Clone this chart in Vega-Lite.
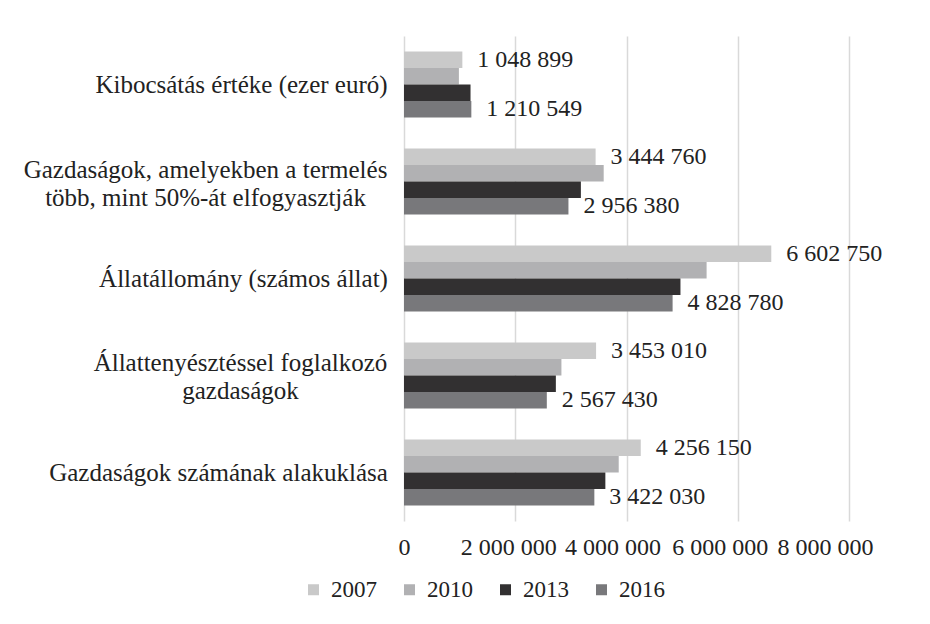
{
  "$schema": "https://vega.github.io/schema/vega-lite/v6.json",
  "width": 445,
  "height": 485,
  "autosize": {"type": "none"},
  "padding": {"left": 404, "top": 36, "right": 81, "bottom": 103},
  "background": "white",
  "config": {
    "locale": {"number": {"decimal": ",", "thousands": " ", "grouping": [3], "currency": ["", ""]}},
    "view": {"stroke": null},
    "font": "Liberation Serif"
  },
  "data": {
    "values": [
      {"kat": "Kibocsátás értéke (ezer euró)", "ev": "2007", "ertek": 1048899, "cimke": "igen"},
      {"kat": "Kibocsátás értéke (ezer euró)", "ev": "2010", "ertek": 987000, "cimke": "nem"},
      {"kat": "Kibocsátás értéke (ezer euró)", "ev": "2013", "ertek": 1196000, "cimke": "nem"},
      {"kat": "Kibocsátás értéke (ezer euró)", "ev": "2016", "ertek": 1210549, "cimke": "igen"},
      {"kat": "Gazdaságok, amelyekben a termelés több, mint 50%-át elfogyasztják", "ev": "2007", "ertek": 3444760, "cimke": "igen"},
      {"kat": "Gazdaságok, amelyekben a termelés több, mint 50%-át elfogyasztják", "ev": "2010", "ertek": 3590000, "cimke": "nem"},
      {"kat": "Gazdaságok, amelyekben a termelés több, mint 50%-át elfogyasztják", "ev": "2013", "ertek": 3180000, "cimke": "nem"},
      {"kat": "Gazdaságok, amelyekben a termelés több, mint 50%-át elfogyasztják", "ev": "2016", "ertek": 2956380, "cimke": "igen"},
      {"kat": "Állatállomány (számos állat)", "ev": "2007", "ertek": 6602750, "cimke": "igen"},
      {"kat": "Állatállomány (számos állat)", "ev": "2010", "ertek": 5440000, "cimke": "nem"},
      {"kat": "Állatállomány (számos állat)", "ev": "2013", "ertek": 4970000, "cimke": "nem"},
      {"kat": "Állatállomány (számos állat)", "ev": "2016", "ertek": 4828780, "cimke": "igen"},
      {"kat": "Állattenyésztéssel foglalkozó gazdaságok", "ev": "2007", "ertek": 3453010, "cimke": "igen"},
      {"kat": "Állattenyésztéssel foglalkozó gazdaságok", "ev": "2010", "ertek": 2830000, "cimke": "nem"},
      {"kat": "Állattenyésztéssel foglalkozó gazdaságok", "ev": "2013", "ertek": 2730000, "cimke": "nem"},
      {"kat": "Állattenyésztéssel foglalkozó gazdaságok", "ev": "2016", "ertek": 2567430, "cimke": "igen"},
      {"kat": "Gazdaságok számának alakuklása", "ev": "2007", "ertek": 4256150, "cimke": "igen"},
      {"kat": "Gazdaságok számának alakuklása", "ev": "2010", "ertek": 3860000, "cimke": "nem"},
      {"kat": "Gazdaságok számának alakuklása", "ev": "2013", "ertek": 3620000, "cimke": "nem"},
      {"kat": "Gazdaságok számának alakuklása", "ev": "2016", "ertek": 3422030, "cimke": "igen"}
    ]
  },
  "encoding": {
    "y": {
      "field": "kat",
      "type": "nominal",
      "sort": null,
      "scale": {"paddingInner": 0.32, "paddingOuter": 0.16},
      "axis": {
        "title": null,
        "domain": false,
        "ticks": false,
        "labelFont": "Liberation Serif",
        "labelFontSize": 25,
        "labelColor": "#222222",
        "labelAlign": "center",
        "labelPadding": {
          "condition": [
            {"test": "datum.value == 'Kibocsátás értéke (ezer euró)'", "value": 163},
            {"test": "datum.value == 'Gazdaságok, amelyekben a termelés több, mint 50%-át elfogyasztják'", "value": 199},
            {"test": "datum.value == 'Állatállomány (számos állat)'", "value": 161},
            {"test": "datum.value == 'Állattenyésztéssel foglalkozó gazdaságok'", "value": 164}
          ],
          "value": 186
        },
        "labelOffset": {
          "condition": [
            {"test": "datum.value == 'Gazdaságok, amelyekben a termelés több, mint 50%-át elfogyasztják'", "value": -12},
            {"test": "datum.value == 'Állattenyésztéssel foglalkozó gazdaságok'", "value": -13}
          ],
          "value": 0
        },
        "labelLimit": 500,
        "labelLineHeight": 28,
        "labelExpr": "datum.value == 'Gazdaságok, amelyekben a termelés több, mint 50%-át elfogyasztják' ? ['Gazdaságok, amelyekben a termelés', 'több, mint 50%-át elfogyasztják'] : datum.value == 'Állattenyésztéssel foglalkozó gazdaságok' ? ['Állattenyésztéssel foglalkozó', 'gazdaságok'] : datum.label"
      }
    },
    "yOffset": {"field": "ev", "type": "nominal", "sort": "ascending", "scale": {"paddingInner": 0, "paddingOuter": 0}},
    "x": {
      "field": "ertek",
      "type": "quantitative",
      "scale": {"domain": [0, 8000000], "nice": false},
      "axis": {
        "title": null,
        "domain": false,
        "ticks": false,
        "values": [0, 2000000, 4000000, 6000000, 8000000],
        "format": ",d",
        "grid": true,
        "gridColor": "#d9d9d9",
        "gridWidth": 1.5,
        "labelOverlap": false,
        "labelFlush": false,
        "labelFont": "Liberation Serif",
        "labelFontSize": 24,
        "labelColor": "#222222",
        "labelPadding": 14,
        "labelOffset": {
          "condition": [
            {"test": "datum.value == 2000000", "value": -7},
            {"test": "datum.value == 4000000", "value": -14},
            {"test": "datum.value == 6000000", "value": -18},
            {"test": "datum.value == 8000000", "value": -24}
          ],
          "value": 0
        }
      }
    }
  },
  "layer": [
    {
      "mark": {"type": "bar"},
      "encoding": {
        "color": {
          "field": "ev",
          "type": "nominal",
          "scale": {"domain": ["2007", "2010", "2013", "2016"], "range": ["#c9c9c9", "#b1b1b3", "#323031", "#78787b"]},
          "legend": {
            "title": null,
            "orient": "none",
            "direction": "horizontal",
            "legendX": -102,
            "legendY": 542,
            "symbolType": "square",
            "symbolSize": 121,
            "symbolStrokeWidth": 0,
            "labelFont": "Liberation Serif",
            "labelFontSize": 23,
            "labelColor": "#222222",
            "labelOffset": 6,
            "columnPadding": 21
          }
        }
      }
    },
    {
      "transform": [{"filter": "datum.cimke == 'igen'"}],
      "mark": {"type": "text", "align": "left", "baseline": "middle", "dx": 15, "font": "Liberation Serif", "fontSize": 24, "color": "#222222"},
      "encoding": {
        "text": {"field": "ertek", "type": "quantitative", "format": ",d"}
      }
    }
  ]
}
